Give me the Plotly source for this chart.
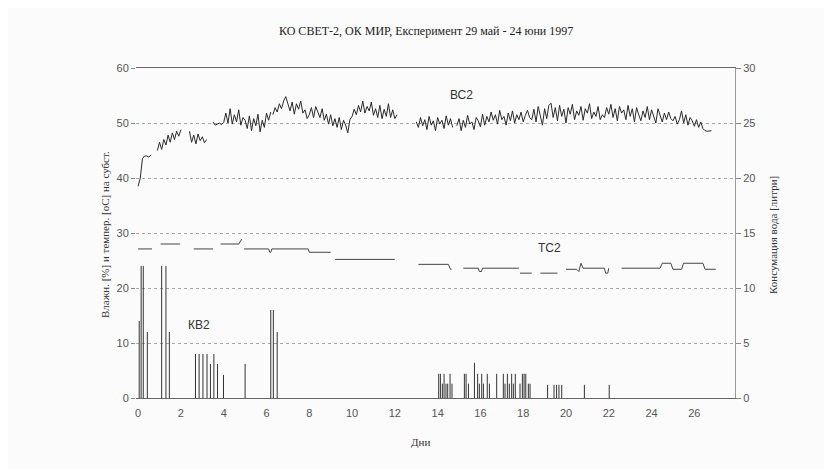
import plotly.graph_objects as go

# ---------------- DATA ----------------
title_text = "КО СВЕТ-2, ОК МИР, Експеримент 29 май - 24 юни 1997"
x_title = "Дни"
y1_title = "Влажн. [%] и темпер. [оС] на субст."
y2_title = "Консумация вода [литри]"

x_ticks = [0, 2, 4, 6, 8, 10, 12, 14, 16, 18, 20, 22, 24, 26]
y1_ticks = [0, 10, 20, 30, 40, 50, 60]
y2_ticks = [0, 5, 10, 15, 20, 25, 30]

sample_step = 0.1  # days between BC2 readings

# BC2 (substrate moisture, %) segments: start day, readings
bc2_seg_start = [0.0, 0.9, 2.4, 3.5, 6.3, 13.0, 14.9]
bc2_seg_vals = [
    [38.5, 40.0, 43.5, 44.0, 44.0, 43.8, 44.2],
    [45.0, 46.5, 45.2, 47.0, 46.0, 47.8, 46.5, 48.2, 47.0, 48.5, 47.6, 48.8],
    [48.5, 46.5, 47.8, 46.2, 48.0, 46.8, 47.5, 46.4, 47.0],
    [50.2, 49.6, 49.8, 50.0, 49.7, 50.1, 51.8, 50.0, 52.6, 49.8, 51.5, 50.2, 52.4, 49.6,
     51.0, 50.5, 49.0, 51.3, 48.6, 50.8, 49.5, 51.6, 48.4, 50.5, 49.2, 51.8, 50.5, 52.0],
    [51.5, 52.8, 52.0, 53.5, 52.6, 54.0, 54.8, 53.4, 52.2, 53.8, 51.6, 53.5, 52.5, 54.0,
     51.8, 52.4, 50.8, 51.5, 52.8, 51.0, 53.0, 52.0, 51.0, 52.6, 50.5, 51.6, 49.8, 51.5,
     49.5, 50.8, 49.2, 51.0, 48.8, 50.5, 49.6, 48.2, 50.6, 51.2, 52.5, 51.5, 53.2, 52.0,
     54.0, 51.8, 53.0, 52.2, 53.8, 51.4, 52.6, 51.0, 53.2, 50.8, 52.5, 51.2, 53.5, 51.0,
     52.4, 50.8, 51.5],
    [50.2, 49.2, 51.0, 49.5, 50.6, 48.8, 51.2, 49.6, 50.4, 48.6, 51.0, 49.8, 50.5, 49.0,
     51.3, 49.6, 50.8, 49.2],
    [49.5, 50.8, 48.6, 50.5, 49.2, 51.4, 49.8, 50.2, 48.8, 51.0, 50.4, 49.3, 51.6, 49.6,
     51.2, 50.2, 52.0, 50.5, 51.5, 49.8, 52.3, 50.6, 51.2, 49.6, 51.8, 50.4, 52.2, 50.0,
     51.5, 50.6, 52.0, 50.2, 51.4, 52.3, 51.0, 50.6, 52.5, 50.2, 53.0, 51.4, 49.6, 52.6,
     50.8, 53.2, 53.6, 51.0, 52.8, 50.4, 53.2, 51.2, 52.5, 50.0, 52.8, 51.6, 53.4, 50.6,
     52.2, 51.4, 53.0, 50.5, 52.6, 51.8, 53.5, 50.8, 52.0, 51.2, 53.0, 50.6, 51.5, 51.0,
     52.8, 51.6, 53.4, 51.0, 52.6, 50.4, 53.0, 51.8, 52.4, 50.6, 53.2, 51.2, 52.6, 50.2,
     52.8, 51.5, 50.4, 52.2, 51.0, 53.0, 50.6, 52.4, 51.2, 50.0, 52.6, 51.4, 50.2, 51.8,
     50.6, 52.0, 50.8, 50.4, 51.2, 49.8, 50.6, 52.2, 50.0, 51.5, 49.6, 51.0, 50.4, 49.4,
     50.6, 49.2, 50.2, 49.0, 48.6, 48.5, 48.5, 48.6],
]

# TC2 (substrate temperature, oC) step line, None = gap
tc2_day = [0.0, 0.65, None, 1.05, 1.95, None, 2.6, 3.5, None, 3.85, 4.7, 4.85, None,
           4.95, 6.1, 6.15, 6.2, 6.25, 7.95, 8.0, 8.05, 8.1, 9.0, None, 9.2, 12.0, None,
           13.1, 14.5, 14.6, 14.65, None, 15.2, 15.9, 15.95, 16.05, 16.1, 17.8, None,
           17.85, 18.4, None, 18.8, 19.6, None, 20.0, 20.5, 20.6, 20.7, 20.8, 21.5,
           21.8, 21.85, 21.95, 22.0, None, 22.6, 24.4, 24.5, 24.9, 25.0, 25.4, 25.5,
           26.4, 26.5, 27.0]
tc2_val = [27.1, 27.1, None, 28.0, 28.0, None, 27.1, 27.1, None, 28.0, 28.0, 28.9, None,
           27.1, 27.1, 26.5, 26.5, 27.1, 27.1, 26.5, 26.5, 26.5, 26.5, None, 25.2, 25.2, None,
           24.3, 24.3, 23.4, 23.4, None, 23.6, 23.6, 23.0, 23.0, 23.6, 23.6, None,
           22.7, 22.7, None, 22.7, 22.7, None, 23.4, 23.4, 23.0, 24.5, 23.6, 23.6,
           23.6, 22.7, 22.7, 23.6, None, 23.6, 23.6, 24.5, 24.5, 23.4, 23.4, 24.5,
           24.5, 23.4, 23.4]

# KB2 (water consumption, litres) impulses
kb2_day = [0.05, 0.14, 0.24, 0.43, 1.10, 1.30, 1.46, 2.68, 2.85, 3.03, 3.22, 3.38, 3.54,
           3.71, 3.99, 5.00, 6.20, 6.32, 6.50,
           14.05, 14.13, 14.22, 14.30, 14.39, 14.47, 14.58, 14.67, 15.25, 15.33, 15.44,
           15.72, 15.87, 15.95, 16.06, 16.14, 16.32, 16.42, 16.76, 17.07, 17.15, 17.26,
           17.35, 17.46, 17.54, 17.63, 17.85, 17.96, 18.04, 18.12, 18.24, 18.32, 19.14,
           19.44, 19.56, 19.67, 19.80, 20.86, 22.02]
kb2_val = [7.0, 12.0, 12.0, 6.0, 12.0, 12.0, 6.0, 4.0, 4.0, 4.0, 4.0, 3.1, 4.0,
           3.1, 2.1, 3.1, 8.0, 8.0, 6.0,
           2.2, 2.2, 1.3, 2.2, 1.3, 1.3, 2.2, 1.3, 2.2, 2.2, 1.3,
           3.2, 2.2, 1.3, 2.2, 1.3, 2.2, 1.3, 2.2, 2.2, 1.3, 2.2,
           1.3, 2.2, 1.3, 2.2, 1.3, 2.2, 2.2, 2.2, 1.3, 1.3, 1.2,
           1.2, 1.2, 1.2, 1.2, 1.2, 1.2]

# series labels: text, day, left-axis value
label_text = ["ВС2", "ТС2", "КВ2"]
label_day = [15.1, 19.25, 2.85]
label_val = [55.1, 27.2, 13.3]

# ---------------- BUILD ----------------
W, H = 832, 469
OFF = 8  # page body margin of the html page
# target plot area on screen: x 136..735, y 68..398
ML = 136 - OFF
MT = 68 - OFF
MR = W + OFF - 735
MB = H + OFF - 398

bc2_x, bc2_y = [], []
for start, vals in zip(bc2_seg_start, bc2_seg_vals):
    for i, v in enumerate(vals):
        bc2_x.append(round(start + i * sample_step, 3))
        bc2_y.append(v)
    bc2_x.append(None)
    bc2_y.append(None)

kb_x, kb_y = [], []
for d, v in zip(kb2_day, kb2_val):
    kb_x += [d, d, None]
    kb_y += [0, v, None]

ink = "#2a2a2a"
fig = go.Figure()
fig.add_trace(go.Scatter(x=bc2_x, y=bc2_y, mode="lines", line=dict(color=ink, width=1),
                         connectgaps=False, showlegend=False))
fig.add_trace(go.Scatter(x=tc2_day, y=tc2_val, mode="lines", line=dict(color="#444", width=1),
                         connectgaps=False, showlegend=False))
fig.add_trace(go.Scatter(x=kb_x, y=kb_y, mode="lines", line=dict(color="#333", width=1),
                         connectgaps=False, showlegend=False, yaxis="y2"))

for t, d, v in zip(label_text, label_day, label_val):
    fig.add_annotation(x=d, y=v, xref="x", yref="y", text=t, showarrow=False,
                       font=dict(family="Liberation Sans, Arial", size=12, color="#333"))

tick_font = dict(family="Liberation Sans, Arial", size=11, color="#555")
serif = dict(family="Liberation Serif, Times New Roman", size=11, color="#333")

pw = W - ML - MR
ph = H - MT - MB


def px_x(px):
    return (px - OFF - ML) / pw


def px_y(py):
    return (H - MB - (py - OFF)) / ph


# title and axis titles as paper annotations (fixed positions, no automargin)
fig.add_annotation(x=px_x(426), y=px_y(31), xref="paper", yref="paper", text=title_text,
                   showarrow=False, xanchor="center", yanchor="middle",
                   font=dict(family="Liberation Serif, Times New Roman", size=12, color="#222"))
fig.add_annotation(x=px_x(420), y=px_y(442), xref="paper", yref="paper", text=x_title,
                   showarrow=False, xanchor="center", yanchor="middle", font=serif)
fig.add_annotation(x=px_x(105), y=px_y(235), xref="paper", yref="paper", text=y1_title,
                   showarrow=False, xanchor="center", yanchor="middle", textangle=-90, font=serif)
fig.add_annotation(x=px_x(773), y=px_y(235), xref="paper", yref="paper", text=y2_title,
                   showarrow=False, xanchor="center", yanchor="middle", textangle=-90, font=serif)

fig.update_layout(
    width=W, height=H,
    margin=dict(l=ML, r=MR, t=MT, b=MB, autoexpand=False),
    paper_bgcolor="#fbfbfb", plot_bgcolor="#fbfbfb",
    xaxis=dict(range=[-0.1, 27.9], tickvals=x_ticks, tickfont=tick_font, automargin=False,
               showgrid=False, zeroline=False, showline=True, mirror=True,
               linecolor="#666", linewidth=1, ticks="outside", ticklen=5,
               tickcolor="rgba(0,0,0,0)"),
    yaxis=dict(range=[0, 60], tickvals=y1_ticks, tickfont=tick_font, automargin=False,
               showgrid=True, gridcolor="#a8a8a8", griddash="dot", gridwidth=1,
               zeroline=False, showline=False, ticks="outside", ticklen=4,
               tickcolor="#888"),
    yaxis2=dict(range=[0, 30], tickvals=y2_ticks, tickfont=tick_font, overlaying="y",
                automargin=False,
                side="right", showgrid=False, zeroline=False, showline=True,
                linecolor="#999", linewidth=1, ticks="outside", ticklen=5,
                tickcolor="#888"),
)

fig.write_html("out.html")
